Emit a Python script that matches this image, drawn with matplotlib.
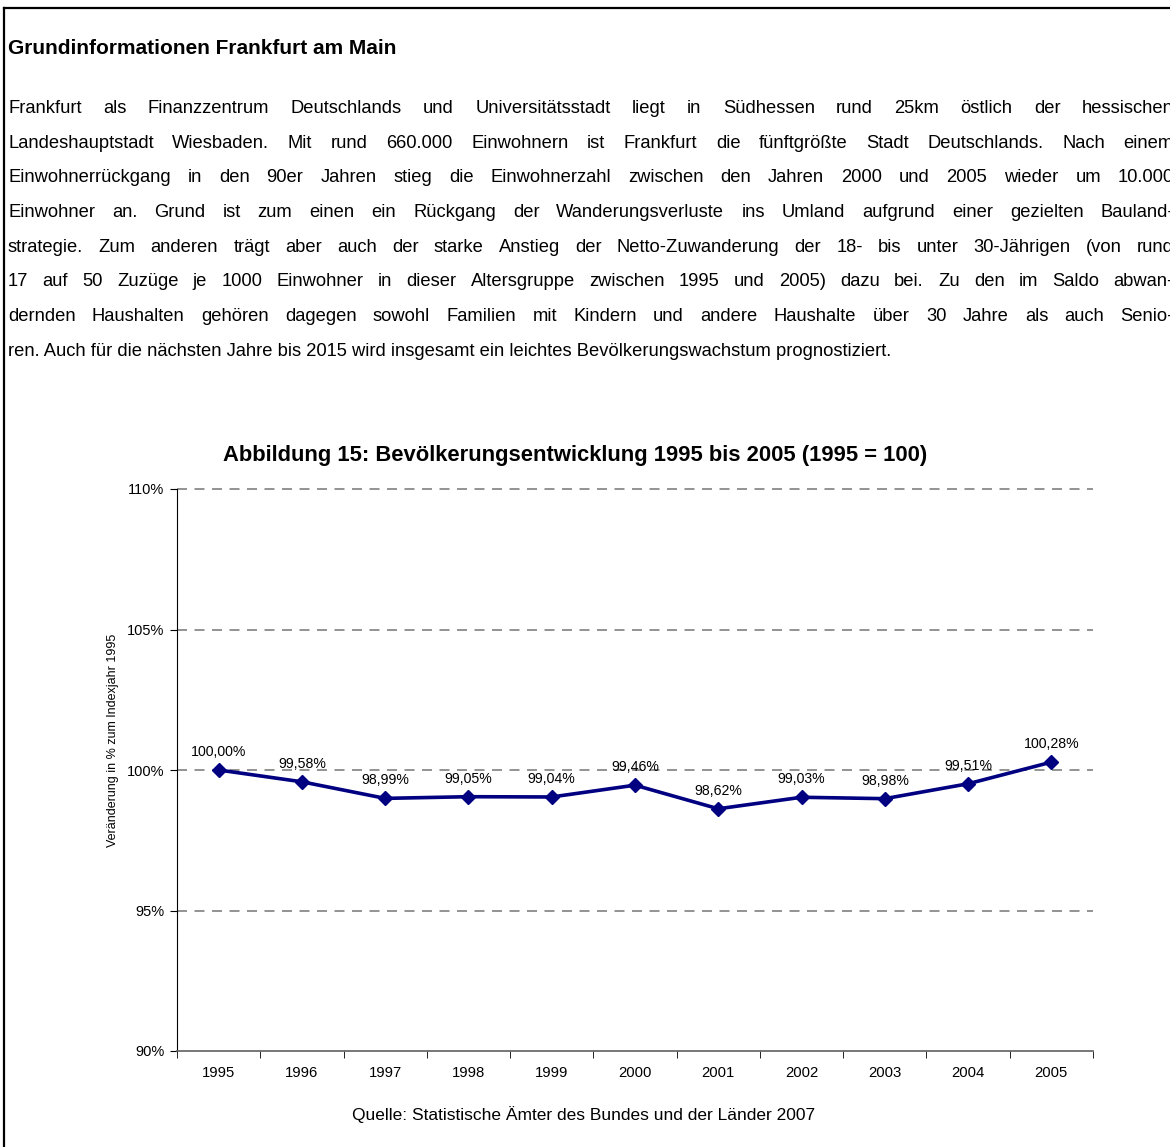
import matplotlib
matplotlib.use("Agg")
import matplotlib.pyplot as plt
import numpy as np

plt.rcParams["font.family"] = ["Liberation Sans", "DejaVu Sans"]

# data
years = ["1995", "1996", "1997", "1998", "1999", "2000", "2001", "2002", "2003", "2004", "2005"]
values = [100.00, 99.58, 98.99, 99.05, 99.04, 99.46, 98.62, 99.03, 98.98, 99.51, 100.28]
y_ticks = [90, 95, 100, 105, 110]

heading = "Grundinformationen Frankfurt am Main"
body_lines = [
    "Frankfurt als Finanzzentrum Deutschlands und Universitätsstadt liegt in Südhessen rund 25km östlich der hessischen",
    "Landeshauptstadt Wiesbaden. Mit rund 660.000 Einwohnern ist Frankfurt die fünftgrößte Stadt Deutschlands. Nach einem",
    "Einwohnerrückgang in den 90er Jahren stieg die Einwohnerzahl zwischen den Jahren 2000 und 2005 wieder um 10.000",
    "Einwohner an. Grund ist zum einen ein Rückgang der Wanderungsverluste ins Umland aufgrund einer gezielten Bauland-",
    "strategie. Zum anderen trägt aber auch der starke Anstieg der Netto-Zuwanderung der 18- bis unter 30-Jährigen (von rund",
    "17 auf 50 Zuzüge je 1000 Einwohner in dieser Altersgruppe zwischen 1995 und 2005) dazu bei. Zu den im Saldo abwan-",
    "dernden Haushalten gehören dagegen sowohl Familien mit Kindern und andere Haushalte über 30 Jahre als auch Senio-",
    "ren. Auch für die nächsten Jahre bis 2015 wird insgesamt ein leichtes Bevölkerungswachstum prognostiziert.",
]
chart_title = "Abbildung 15: Bevölkerungsentwicklung 1995 bis 2005 (1995 = 100)"
y_label = "Veränderung in % zum Indexjahr 1995"
source = "Quelle: Statistische Ämter des Bundes und der Länder 2007"

W, H = 1170, 1147
fig = plt.figure(figsize=(W / 100, H / 100), dpi=100)
renderer = fig.canvas.get_renderer()


def px(x, y):
    return x / W, 1 - y / H


# frame lines (top and left only)
fig.add_artist(plt.Line2D([4 / W, 4 / W], [0, 1 - 8 / H], color="black", lw=1.6,
                          transform=fig.transFigure))
fig.add_artist(plt.Line2D([4 / W, 1], [1 - 8 / H, 1 - 8 / H], color="black", lw=1.6,
                          transform=fig.transFigure))

fig.text(*px(8, 54), heading, fontsize=15, fontweight="bold", va="baseline")

# justified body text
left, right = 8, 1174
body_size = 13.2
for i, line in enumerate(body_lines):
    base = 113 + i * 34.7
    words = line.split(" ")
    if i == len(body_lines) - 1:
        fig.text(*px(left, base), line, fontsize=body_size, va="baseline")
        continue
    texts = [fig.text(0, 0, w, fontsize=body_size, va="baseline") for w in words]
    widths = [t.get_window_extent(renderer).width for t in texts]
    gap = (right - left - sum(widths)) / (len(words) - 1)
    x = left
    for t, w in zip(texts, widths):
        t.set_position(px(x, base))
        x += w + gap

fig.text(*px(575, 461), chart_title, fontsize=15.8, fontweight="bold",
         ha="center", va="baseline")

ax = fig.add_axes([177 / W, (H - 1051) / H, (1093 - 177) / W, (1051 - 489) / H])
xs = np.arange(len(years))
ax.plot(xs, values, color="#000080", lw=2.6, marker="D", markersize=7,
        zorder=3, clip_on=False)
for x, v in zip(xs, values):
    ax.annotate(f"{v:.2f}%".replace(".", ","), (x, v), xytext=(0, 8),
                textcoords="offset points", ha="center", va="bottom", fontsize=10.2)

ax.set_xlim(-0.5, len(years) - 0.5)
ax.set_ylim(90, 110)
ax.set_yticks(y_ticks)
ax.set_yticklabels([f"{t}%" for t in y_ticks], fontsize=10.5)
ax.set_xticks(xs)
ax.set_xticklabels(years, fontsize=10.7)
ax.set_xticks(np.arange(-0.5, len(years)), minor=True)
ax.tick_params(axis="x", which="major", length=0, pad=11)
ax.tick_params(axis="x", which="minor", length=5, direction="out", color="black")
ax.tick_params(axis="y", length=5, direction="out", pad=4)
for t in y_ticks[1:]:
    ax.axhline(t, color="#808080", lw=1.2, ls=(0, (6, 4.5)), zorder=1, clip_on=False)
ax.spines["top"].set_visible(False)
ax.spines["right"].set_visible(False)
ax.spines["left"].set_color("black")
ax.spines["bottom"].set_color("#606060")
ax.spines["bottom"].set_linewidth(1.2)

fig.text(*px(113, 740), y_label, fontsize=9, rotation=90, ha="center", va="center")
fig.text(*px(584, 1115), source, fontsize=12.5, ha="center", va="center")

fig.savefig("out.png", dpi=100)
